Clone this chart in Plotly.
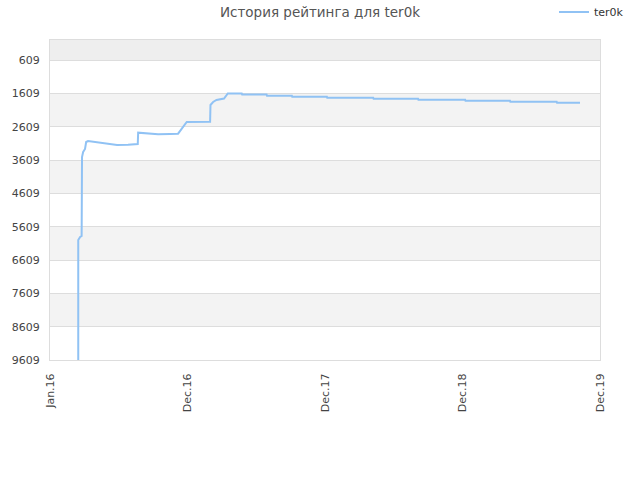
import plotly.graph_objects as go

dates = ["2016-03-16", "2016-03-16", "2016-03-21", "2016-03-25", "2016-03-26", "2016-03-29",
         "2016-04-03", "2016-04-06", "2016-04-11", "2016-05-13", "2016-06-03", "2016-06-27",
         "2016-07-26", "2016-08-21", "2016-08-22", "2016-09-09", "2016-10-14", "2016-11-15",
         "2016-12-06", "2016-12-29", "2017-03-01", "2017-03-02", "2017-03-09", "2017-03-18",
         "2017-04-07", "2017-04-17", "2017-05-24", "2017-05-25", "2017-07-29", "2017-07-30",
         "2017-10-04", "2017-10-05", "2018-01-05", "2018-01-06", "2018-05-08", "2018-05-09",
         "2018-09-04", "2018-09-05", "2019-01-07", "2019-01-08", "2019-05-06", "2019-05-07",
         "2019-09-07", "2019-09-08", "2019-11-08"]
ratings = [9609, 6009, 5919, 5889, 3519, 3369,
           3279, 3069, 3039, 3090, 3129, 3159,
           3150, 3129, 2790, 2808, 2838, 2829,
           2820, 2469, 2460, 1959, 1869, 1809,
           1764, 1614, 1614, 1644, 1644, 1680,
           1680, 1713, 1713, 1744, 1744, 1774,
           1774, 1804, 1804, 1834, 1834, 1864,
           1864, 1894, 1894]

y_ticks = [609, 1609, 2609, 3609, 4609, 5609, 6609, 7609, 8609, 9609]
y_top = 9
x_tickvals = ["2016-01-01", "2016-12-31", "2017-12-31", "2018-12-31", "2019-12-31"]
x_ticktext = ["Jan.16", "Dec.16", "Dec.17", "Dec.18", "Dec.19"]

fig = go.Figure()
fig.add_trace(go.Scatter(x=dates, y=ratings, mode="lines", name="ter0k",
                         line=dict(color="#90c2f4", width=2)))

shapes = [dict(type="rect", xref="paper", yref="y", x0=0, x1=1, y0=y_top, y1=y_ticks[0],
               fillcolor="#eeeeee", line_width=0, layer="below")]
for i in range(1, len(y_ticks) - 1, 2):
    shapes.append(dict(type="rect", xref="paper", yref="y", x0=0, x1=1,
                       y0=y_ticks[i], y1=y_ticks[i + 1],
                       fillcolor="#f3f3f3", line_width=0, layer="below"))

fig.update_layout(
    width=640, height=480,
    margin=dict(l=50, r=40, t=40, b=120, autoexpand=False),
    paper_bgcolor="white", plot_bgcolor="white",
    font=dict(family="DejaVu Sans", size=11, color="#444"),
    title=dict(text="История рейтинга для ter0k", x=0.5, xanchor="center", y=0.975, yanchor="middle",
               font=dict(size=13.5, color="#555")),
    showlegend=True,
    legend=dict(x=554 / 640, xanchor="left", xref="container", y=0.975, yanchor="middle",
                yref="container", bgcolor="rgba(0,0,0,0)", font=dict(size=11, color="#333")),
    shapes=shapes,
    xaxis=dict(type="date", range=[x_tickvals[0], x_tickvals[-1]], tickvals=x_tickvals,
               ticktext=x_ticktext, tickangle=-90, showgrid=False, showline=True,
               linecolor="#dddddd", mirror=True, ticks="", zeroline=False, automargin=False,
               ticklabelstandoff=8, tickfont=dict(size=11, color="#444")),
    yaxis=dict(range=[y_ticks[-1], y_top], tickvals=y_ticks, showgrid=True, gridcolor="#dddddd",
               showline=True, linecolor="#dddddd", mirror=True, ticks="", zeroline=False,
               automargin=False, ticklabelstandoff=7, tickfont=dict(size=11, color="#444")),
)
fig.write_html("out.html", config={"displayModeBar": False},
               post_script="document.body.style.margin='0';")
